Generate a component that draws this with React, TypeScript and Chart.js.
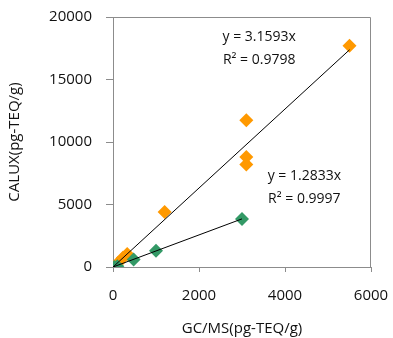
import React, { useEffect, useRef } from "react";
import { Chart, registerables } from "chart.js";

Chart.register(...registerables);

const orangeX = [5500, 3100, 3100, 3100, 1200, 330, 230, 120];
const orangeY = [17700, 11750, 8800, 8200, 4400, 1050, 750, 350];
const greenX = [3000, 1000, 480, 100, 30];
const greenY = [3850, 1300, 600, 60, 0];
const slopeOrange = 3.1593;
const slopeGreen = 1.2833;
const xTicks = [0, 2000, 4000, 6000];
const yTicks = [0, 5000, 10000, 15000, 20000];
const eqOrange = ["y = 3.1593x", "R² = 0.9798"];
const eqGreen = ["y = 1.2833x", "R² = 0.9997"];
const eqOrangePos = { x: 3400, y: [18400, 16560] };
const eqGreenPos = { x: 4450, y: [7300, 5450] };

const FONT = "'Open Sans', sans-serif";

export default function App() {
  const ref = useRef<HTMLCanvasElement | null>(null);
  useEffect(() => {
    document.body.style.margin = "0";
    const ctx = ref.current!;
    const orangeMax = Math.max(...orangeX);
    const greenMax = Math.max(...greenX);
    const borderPlugin = {
      id: "boxAndText",
      afterDatasetsDraw(chart: any) {
        const c = chart.ctx;
        const a = chart.chartArea;
        c.save();
        c.strokeStyle = "#8c8c8c";
        c.lineWidth = 1;
        c.beginPath();
        c.moveTo(a.left, a.top + 0.5);
        c.lineTo(a.right - 0.5, a.top + 0.5);
        c.lineTo(a.right - 0.5, a.bottom);
        c.stroke();
        const xs = chart.scales.x;
        const ys = chart.scales.y;
        c.fillStyle = "#111";
        c.font = `14px ${FONT}`;
        c.textAlign = "center";
        c.textBaseline = "middle";
        const drawEq = (lines: string[], pos: { x: number; y: number[] }) => {
          lines.forEach((t, i) => {
            c.fillText(t, xs.getPixelForValue(pos.x), ys.getPixelForValue(pos.y[i]));
          });
        };
        drawEq(eqOrange, eqOrangePos);
        drawEq(eqGreen, eqGreenPos);
        c.restore();
      },
    };
    const chart = new Chart(ctx, {
      type: "scatter",
      data: {
        datasets: [
          {
            type: "line",
            data: [
              { x: 0, y: 0 },
              { x: orangeMax, y: slopeOrange * orangeMax },
            ],
            borderColor: "#000",
            borderWidth: 1,
            pointRadius: 0,
            showLine: true,
            fill: false,
            order: 0,
          } as any,
          {
            type: "line",
            data: [
              { x: 0, y: 0 },
              { x: greenMax, y: slopeGreen * greenMax },
            ],
            borderColor: "#000",
            borderWidth: 1,
            pointRadius: 0,
            showLine: true,
            fill: false,
            order: 0,
          } as any,
          {
            data: greenX.map((x, i) => ({ x, y: greenY[i] })),
            pointStyle: "rectRot",
            pointRadius: 7,
            backgroundColor: "#339966",
            borderColor: "#339966",
            borderWidth: 0,
            order: 1,
          },
          {
            data: orangeX.map((x, i) => ({ x, y: orangeY[i] })),
            pointStyle: "rectRot",
            pointRadius: 7,
            backgroundColor: "#FF9900",
            borderColor: "#FF9900",
            borderWidth: 0,
            order: 2,
          },
        ],
      },
      options: {
        animation: false,
        responsive: false,
        maintainAspectRatio: false,
        layout: { padding: { top: 17, right: 22, left: 0, bottom: 0 } },
        plugins: { legend: { display: false }, tooltip: { enabled: false } },
        scales: {
          x: {
            type: "linear",
            min: 0,
            max: 6000,
            afterBuildTicks: (s: any) => {
              s.ticks = xTicks.map((v) => ({ value: v }));
            },
            afterFit: (s: any) => {
              s.height = 338 - 267;
              s.paddingLeft = 0;
              s.paddingRight = 0;
            },
            border: { display: true, color: "#8c8c8c", width: 1 },
            grid: { drawOnChartArea: false, drawTicks: true, tickLength: 5, color: "#8c8c8c" },
            ticks: {
              color: "#111",
              font: { family: FONT, size: 15 },
              padding: 15,
              maxRotation: 0,
              callback: (v: any) => String(v),
            },
            title: {
              display: true,
              text: "GC/MS(pg-TEQ/g)",
              color: "#111",
              font: { family: FONT, size: 15 },
              padding: { top: 8, bottom: 0 },
            },
          },
          y: {
            type: "linear",
            min: 0,
            max: 20000,
            afterBuildTicks: (s: any) => {
              s.ticks = yTicks.map((v) => ({ value: v }));
            },
            afterFit: (s: any) => {
              s.width = 113;
              s.paddingTop = 0;
              s.paddingBottom = 0;
            },
            border: { display: true, color: "#8c8c8c", width: 1 },
            grid: { drawOnChartArea: false, drawTicks: true, tickLength: 7, color: "#8c8c8c" },
            ticks: {
              color: "#111",
              font: { family: FONT, size: 15 },
              padding: 14,
              callback: (v: any) => String(v),
            },
            title: {
              display: true,
              text: "CALUX(pg-TEQ/g)",
              color: "#111",
              font: { family: FONT, size: 15 },
              padding: { top: 6, bottom: 4 },
            },
          },
        },
      },
      plugins: [borderPlugin],
    });
    return () => chart.destroy();
  }, []);
  return (
    <div style={{ width: 393, height: 338, background: "#fff" }}>
      <canvas ref={ref} width={393} height={338} style={{ display: "block" }} />
    </div>
  );
}
